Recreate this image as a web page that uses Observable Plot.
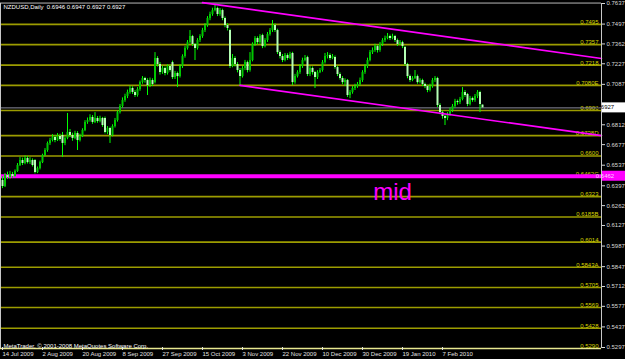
<!DOCTYPE html>
<html><head><meta charset="utf-8">
<script src="https://cdn.jsdelivr.net/npm/d3@7"></script>
<script src="https://cdn.jsdelivr.net/npm/@observablehq/plot@0.6"></script>
<style>html,body{margin:0;padding:0;background:#000;overflow:hidden}</style>
</head><body><div id="chart"></div>
<script>
const symbolTitle = "NZDUSD,Daily  0.6946 0.6947 0.6927 0.6927";
const copyright = "MetaTrader, © 2001-2008 MetaQuotes Software Corp.";

const open = [0.6433,0.6392,0.6467,0.6453,0.6474,0.6460,0.6494,0.6535,0.6569,0.6549,0.6583,0.6555,0.6569,0.6569,0.6487,0.6514,0.6555,0.6603,0.6637,0.6685,
0.6705,0.6726,0.6705,0.6733,0.6739,0.6685,0.6719,0.6760,0.6739,0.6719,0.6753,0.6705,0.6733,0.6773,0.6828,0.6841,0.6862,0.6828,0.6855,0.6834,
0.6855,0.6855,0.6760,0.6787,0.6739,0.6800,0.6841,0.6895,0.6936,0.6977,0.7004,0.7032,0.7059,0.7032,0.7011,0.7052,0.7099,0.7127,0.7113,0.7079,
0.7113,0.7099,0.7263,0.7222,0.7167,0.7195,0.7161,0.7208,0.7235,0.7133,0.7161,0.7140,0.7208,0.7276,0.7331,0.7371,0.7412,0.7358,0.7331,0.7385,
0.7412,0.7453,0.7487,0.7535,0.7562,0.7589,0.7603,0.7562,0.7589,0.7535,0.7487,0.7453,0.7208,0.7263,0.7222,0.7181,0.7140,0.7195,0.7235,0.7181,
0.7249,0.7358,0.7399,0.7371,0.7419,0.7344,0.7385,0.7426,0.7453,0.7487,0.7453,0.7303,0.7276,0.7249,0.7283,0.7263,0.7297,0.7099,0.7140,0.7167,
0.7208,0.7249,0.7269,0.7154,0.7195,0.7167,0.7133,0.7167,0.7181,0.7235,0.7276,0.7283,0.7263,0.7269,0.7201,0.7154,0.7127,0.7099,0.7113,0.7011,
0.7032,0.7059,0.7072,0.7086,0.7113,0.7167,0.7208,0.7249,0.7303,0.7317,0.7344,0.7317,0.7358,0.7385,0.7399,0.7412,0.7399,0.7412,0.7385,0.7358,
0.7371,0.7337,0.7222,0.7140,0.7113,0.7127,0.7140,0.7099,0.7113,0.7086,0.7072,0.7045,0.7072,0.7113,0.7127,0.6943,0.6895,0.6868,0.6855,0.6882,
0.6909,0.6936,0.6970,0.6963,0.6984,0.7032,0.7018,0.6950,0.6991,0.6977,0.7004,0.7032,0.6946];
const high = [0.6460,0.6480,0.6490,0.6495,0.6488,0.6505,0.6548,0.6590,0.6585,0.6600,0.6596,0.6588,0.6580,0.6575,0.6525,0.6565,0.6612,0.6650,0.6695,0.6720,
0.6745,0.6740,0.6752,0.6748,0.6760,0.6730,0.6889,0.6780,0.6755,0.6768,0.6765,0.6748,0.6785,0.6840,0.6858,0.6880,0.6875,0.6895,0.6868,0.6870,
0.6862,0.6865,0.6800,0.6795,0.6812,0.6855,0.6905,0.6950,0.6995,0.7020,0.7048,0.7075,0.7070,0.7045,0.7065,0.7110,0.7140,0.7135,0.7125,0.7130,
0.7125,0.7303,0.7275,0.7235,0.7210,0.7205,0.7220,0.7218,0.7245,0.7175,0.7170,0.7220,0.7288,0.7345,0.7385,0.7453,0.7420,0.7365,0.7398,0.7425,
0.7468,0.7500,0.7548,0.7578,0.7605,0.7628,0.7612,0.7603,0.7598,0.7545,0.7500,0.7462,0.7290,0.7275,0.7235,0.7195,0.7208,0.7250,0.7245,0.7303,
0.7370,0.7412,0.7410,0.7425,0.7428,0.7398,0.7440,0.7467,0.7521,0.7498,0.7462,0.7315,0.7290,0.7297,0.7295,0.7305,0.7305,0.7155,0.7180,0.7222,
0.7265,0.7283,0.7278,0.7208,0.7205,0.7175,0.7180,0.7195,0.7249,0.7297,0.7303,0.7295,0.7290,0.7280,0.7210,0.7165,0.7140,0.7125,0.7120,0.7045,
0.7072,0.7088,0.7100,0.7130,0.7180,0.7222,0.7265,0.7317,0.7335,0.7360,0.7352,0.7372,0.7398,0.7415,0.7433,0.7422,0.7428,0.7420,0.7395,0.7385,
0.7380,0.7345,0.7230,0.7150,0.7140,0.7181,0.7150,0.7125,0.7122,0.7095,0.7080,0.7088,0.7127,0.7140,0.7135,0.6955,0.6905,0.6880,0.6895,0.6925,
0.6950,0.6985,0.6980,0.6998,0.7065,0.7045,0.7025,0.7005,0.7000,0.7018,0.7045,0.7040,0.6947];
const low = [0.6378,0.6385,0.6440,0.6442,0.6448,0.6452,0.6488,0.6528,0.6535,0.6540,0.6545,0.6542,0.6525,0.6478,0.6480,0.6505,0.6548,0.6595,0.6625,0.6672,
0.6695,0.6690,0.6698,0.6700,0.6590,0.6670,0.6710,0.6725,0.6700,0.6710,0.6637,0.6695,0.6725,0.6765,0.6815,0.6830,0.6815,0.6820,0.6822,0.6825,
0.6795,0.6750,0.6745,0.6685,0.6730,0.6790,0.6830,0.6885,0.6925,0.6965,0.6990,0.7020,0.7018,0.6998,0.7000,0.7040,0.7088,0.7095,0.7011,0.7065,
0.7072,0.7090,0.7205,0.7150,0.7155,0.7145,0.7150,0.7170,0.7120,0.7120,0.7065,0.7130,0.7195,0.7265,0.7320,0.7360,0.7345,0.7249,0.7320,0.7372,
0.7400,0.7440,0.7475,0.7520,0.7550,0.7580,0.7548,0.7550,0.7520,0.7472,0.7450,0.7195,0.7200,0.7205,0.7165,0.7079,0.7130,0.7180,0.7165,0.7170,
0.7240,0.7345,0.7355,0.7360,0.7330,0.7335,0.7372,0.7415,0.7440,0.7440,0.7290,0.7260,0.7235,0.7240,0.7250,0.7255,0.7079,0.7088,0.7130,0.7155,
0.7195,0.7240,0.7140,0.7140,0.7150,0.7059,0.7120,0.7160,0.7170,0.7225,0.7260,0.7250,0.7255,0.7190,0.7140,0.7115,0.7085,0.7072,0.6998,0.6990,
0.7020,0.7045,0.7060,0.7075,0.7100,0.7155,0.7195,0.7240,0.7290,0.7305,0.7300,0.7305,0.7345,0.7372,0.7390,0.7385,0.7390,0.7372,0.7345,0.7350,
0.7330,0.7210,0.7125,0.7100,0.7105,0.7120,0.7088,0.7090,0.7072,0.7058,0.7030,0.7035,0.7060,0.7100,0.6930,0.6880,0.6850,0.6807,0.6840,0.6870,
0.6895,0.6925,0.6945,0.6950,0.6975,0.6998,0.6935,0.6940,0.6965,0.6965,0.6990,0.6895,0.6927];
const close = [0.6392,0.6467,0.6453,0.6474,0.6460,0.6494,0.6535,0.6569,0.6549,0.6583,0.6555,0.6569,0.6535,0.6487,0.6514,0.6555,0.6603,0.6637,0.6685,0.6705,
0.6726,0.6705,0.6733,0.6712,0.6685,0.6719,0.6760,0.6739,0.6719,0.6753,0.6705,0.6733,0.6773,0.6828,0.6841,0.6862,0.6828,0.6855,0.6834,0.6855,
0.6807,0.6760,0.6787,0.6739,0.6800,0.6841,0.6895,0.6936,0.6977,0.7004,0.7032,0.7059,0.7032,0.7011,0.7052,0.7099,0.7127,0.7113,0.7079,0.7113,
0.7086,0.7263,0.7222,0.7167,0.7195,0.7161,0.7208,0.7181,0.7133,0.7161,0.7140,0.7208,0.7276,0.7331,0.7371,0.7412,0.7358,0.7331,0.7385,0.7412,
0.7453,0.7487,0.7535,0.7562,0.7589,0.7603,0.7562,0.7589,0.7535,0.7487,0.7467,0.7208,0.7263,0.7222,0.7181,0.7140,0.7195,0.7235,0.7181,0.7249,
0.7358,0.7399,0.7371,0.7412,0.7344,0.7385,0.7426,0.7453,0.7487,0.7453,0.7303,0.7276,0.7249,0.7283,0.7263,0.7290,0.7099,0.7140,0.7167,0.7208,
0.7249,0.7263,0.7154,0.7195,0.7167,0.7133,0.7167,0.7181,0.7235,0.7276,0.7283,0.7263,0.7276,0.7201,0.7154,0.7127,0.7099,0.7113,0.7011,0.7032,
0.7059,0.7072,0.7086,0.7113,0.7167,0.7208,0.7249,0.7303,0.7317,0.7344,0.7317,0.7358,0.7385,0.7399,0.7412,0.7399,0.7412,0.7385,0.7358,0.7371,
0.7344,0.7222,0.7140,0.7113,0.7127,0.7140,0.7099,0.7113,0.7086,0.7072,0.7045,0.7072,0.7113,0.7127,0.6943,0.6895,0.6868,0.6855,0.6882,0.6909,
0.6936,0.6970,0.6963,0.6984,0.7032,0.7011,0.6950,0.6991,0.6977,0.7004,0.7032,0.6950,0.6927];

const dateTickBars = [0,16,32,48,64,80,96,112,128,144,160,176];
const dateTickLabels = ["14 Jul 2009","2 Aug 2009","20 Aug 2009","8 Sep 2009","27 Sep 2009","15 Oct 2009","3 Nov 2009","22 Nov 2009","10 Dec 2009","30 Dec 2009","19 Jan 2010","7 Feb 2010"];
const priceTicks = [0.7637,0.7497,0.7362,0.7227,0.7087,0.6947,0.6812,0.6677,0.6537,0.6397,0.6262,0.6127,0.5987,0.5847,0.5712,0.5577,0.5437,0.5297];
const levels = [0.7495,0.7357,0.7218,0.7080,0.6909,0.6738,0.6600,0.6462,0.6323,0.6185,0.6014,0.5843,0.5705,0.5569,0.5428,0.5290];
const levelLabels = ["0.7495","0.7357","0.7218","0.7080E","0.6909","0.6738D","0.6600","0.6462C","0.6323","0.6185B","0.6014","0.5843A","0.5705","0.5569","0.5428","0.5290"];
const midLevel = 0.6462;
const lastPrice = 0.6927;
const chartTop = 0.7640;
const upperChannel = [[80, 0.7643], [239.6, 0.7263]];
const lowerChannel = [[95, 0.7080], [239.6, 0.6738]];
const midText = [{text: "mid", bar: 156, price: 0.6356}];

const bars = open.map((o, i) => ({i, o, h: high[i], l: low[i], c: close[i]}));
const FS = 6;
const FONT = "'Liberation Sans', Arial, sans-serif";

const chart = Plot.plot({
  width: 625, height: 359,
  marginTop: 3, marginBottom: 12, marginLeft: 0, marginRight: 24,
  style: {background: "#000", color: "#fff", fontFamily: FONT, fontSize: FS + "px", overflow: "visible"},
  x: {domain: [-0.8, 239.6], axis: null},
  y: {domain: [0.5297, 0.7637], axis: null},
  marks: [
    Plot.ruleY(levels, {y: d => d, stroke: d => d === 0.5290 ? "#e8e890" : "#9c9c00", strokeWidth: 1.6}),
    Plot.text(levels, {y: d => d, text: (d, i) => levelLabels[i], frameAnchor: "right", textAnchor: "end", lineAnchor: "bottom", dx: -3, dy: -0.5, fill: "#d4d400", fontSize: FS}),
    Plot.ruleY([chartTop], {stroke: "#b8b8b8", strokeWidth: 1}),
    Plot.ruleY([lastPrice], {stroke: "#8c8c9c", strokeWidth: 1}),
    Plot.ruleY([midLevel], {stroke: "#ff00ff", strokeWidth: 4}),
    Plot.ruleX(bars, {x: "i", y1: "l", y2: "h", stroke: "#00ff00", strokeWidth: 1}),
    Plot.ruleX(bars, {x: "i", y1: "o", y2: "c", stroke: d => d.c < d.o ? "#b4ffb4" : "#00c800", strokeWidth: 2}),
    Plot.line(upperChannel, {x: d => d[0], y: d => d[1], stroke: "#ff00ff", strokeWidth: 1.6}),
    Plot.line(lowerChannel, {x: d => d[0], y: d => d[1], stroke: "#ff00ff", strokeWidth: 1.6}),
    Plot.text(midText, {x: "bar", y: "price", text: "text", fill: "#ff00ff", fontSize: 24}),
    Plot.text([symbolTitle], {text: d => d, frameAnchor: "top-left", textAnchor: "start", lineAnchor: "top", dx: 3, dy: 1, fill: "#ffffff", fontSize: FS}),
    Plot.text([copyright], {text: d => d, frameAnchor: "bottom-left", textAnchor: "start", lineAnchor: "bottom", dx: 3, dy: 0, fill: "#ffffff", fontSize: FS}),
    Plot.frame({anchor: "left", stroke: "#c8c8c8"}),
    Plot.frame({anchor: "right", stroke: "#c8c8c8"}),
    Plot.axisY(priceTicks, {anchor: "right", tickSize: 3, tickPadding: 2, tickFormat: d => d.toFixed(4), color: "#d8d8d8", fontSize: FS}),
    Plot.axisX(dateTickBars, {anchor: "bottom", tickSize: 3, tickPadding: 1, tickFormat: d => dateTickLabels[dateTickBars.indexOf(d)], textAnchor: "start", dx: 0, color: "#e0e0e0", fontSize: FS})
  ]
});

const ys = chart.scale("y");
function priceBox(v, fill, color) {
  const y = ys.apply(v);
  const g = d3.select(chart).append("g");
  g.append("rect").attr("x", 602).attr("y", y - 5).attr("width", 23).attr("height", 10).attr("fill", fill);
  g.append("text").attr("x", 605).attr("y", y).attr("dy", "0.35em").attr("fill", color)
    .attr("font-size", FS).attr("font-family", FONT).text(v.toFixed(4));
}
priceBox(midLevel, "#ff00ff", "#ffd0ff");
priceBox(lastPrice, "#ffffff", "#000000");

document.getElementById("chart").append(chart);
</script>
</body></html>
